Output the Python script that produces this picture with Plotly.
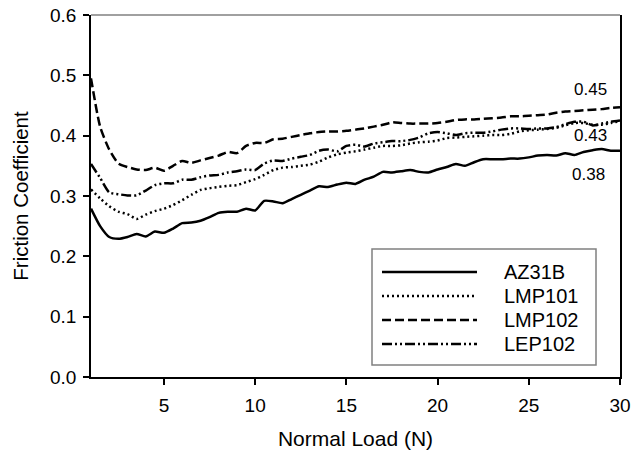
import plotly.graph_objects as go

load = [1.0, 1.5, 2.0, 2.5, 3.0, 3.5, 4.0, 4.5, 5.0, 5.5, 6.0, 6.5, 7.0, 7.5, 8.0, 8.5, 9.0, 9.5,
        10.0, 10.5, 11.0, 11.5, 12.0, 12.5, 13.0, 13.5, 14.0, 14.5, 15.0, 15.5, 16.0, 16.5, 17.0,
        17.5, 18.0, 18.5, 19.0, 19.5, 20.0, 20.5, 21.0, 21.5, 22.0, 22.5, 23.0, 23.5, 24.0, 24.5,
        25.0, 25.5, 26.0, 26.5, 27.0, 27.5, 28.0, 28.5, 29.0, 29.5, 30.0]

az31b = [0.279, 0.250, 0.232, 0.229, 0.232, 0.237, 0.233, 0.241, 0.239, 0.246, 0.255, 0.256, 0.259,
         0.265, 0.272, 0.274, 0.274, 0.279, 0.276, 0.292, 0.291, 0.288, 0.295, 0.302, 0.309, 0.316,
         0.315, 0.319, 0.322, 0.320, 0.327, 0.332, 0.340, 0.339, 0.341, 0.343, 0.340, 0.339, 0.344,
         0.348, 0.353, 0.350, 0.356, 0.361, 0.361, 0.361, 0.362, 0.362, 0.364, 0.367, 0.368, 0.367,
         0.371, 0.368, 0.373, 0.376, 0.378, 0.375, 0.375]

lmp101 = [0.311, 0.296, 0.283, 0.274, 0.270, 0.262, 0.269, 0.275, 0.279, 0.285, 0.293, 0.302, 0.310,
          0.313, 0.315, 0.317, 0.318, 0.323, 0.328, 0.335, 0.343, 0.347, 0.348, 0.350, 0.352, 0.357,
          0.364, 0.369, 0.372, 0.374, 0.377, 0.380, 0.383, 0.383, 0.384, 0.387, 0.389, 0.390, 0.392,
          0.396, 0.397, 0.398, 0.399, 0.400, 0.401, 0.401, 0.403, 0.407, 0.409, 0.410, 0.411, 0.413,
          0.417, 0.421, 0.421, 0.418, 0.418, 0.421, 0.424]

lmp102 = [0.495, 0.415, 0.377, 0.354, 0.348, 0.344, 0.343, 0.347, 0.342, 0.350, 0.358, 0.355, 0.359,
          0.363, 0.367, 0.373, 0.371, 0.383, 0.388, 0.388, 0.394, 0.395, 0.398, 0.401, 0.404, 0.406,
          0.407, 0.407, 0.408, 0.410, 0.412, 0.415, 0.418, 0.422, 0.421, 0.420, 0.420, 0.420, 0.421,
          0.423, 0.426, 0.427, 0.427, 0.428, 0.429, 0.430, 0.432, 0.432, 0.433, 0.434, 0.435, 0.438,
          0.440, 0.441, 0.442, 0.443, 0.444, 0.446, 0.447]

lep102 = [0.353, 0.330, 0.306, 0.303, 0.301, 0.301, 0.309, 0.318, 0.321, 0.321, 0.327, 0.327, 0.331,
          0.334, 0.335, 0.339, 0.341, 0.344, 0.343, 0.354, 0.359, 0.358, 0.362, 0.365, 0.368, 0.375,
          0.377, 0.374, 0.383, 0.385, 0.382, 0.387, 0.389, 0.391, 0.391, 0.393, 0.397, 0.404, 0.406,
          0.404, 0.401, 0.404, 0.405, 0.405, 0.407, 0.410, 0.412, 0.412, 0.411, 0.412, 0.412, 0.414,
          0.419, 0.423, 0.423, 0.417, 0.420, 0.423, 0.425]

series_names = ["AZ31B", "LMP101", "LMP102", "LEP102"]
series_dashes = ["solid", "2px,3px", "9px,4px", "10px,3px,2px,3px,2px,3px"]
end_labels = ["0.38", "0.43", "0.45"]
end_label_x = [28.3, 28.4, 28.4]
end_label_y = [0.335, 0.401, 0.476]

FONT = "Liberation Sans, Arial, sans-serif"

# plot area geometry (px) used to convert the hand-made legend position
W, H = 631, 450
ML, MR, MT, MB = 91, 11, 15, 73
PW, PH = W - ML - MR, H - MT - MB


def px_x(p):
    return (p - ML) / PW


def px_y(p):
    return (H - MB - p) / PH


fig = go.Figure()
for name, vals, dash in zip(series_names, [az31b, lmp101, lmp102, lep102], series_dashes):
    fig.add_trace(go.Scatter(
        x=load, y=vals, mode="lines", name=name, showlegend=False,
        line=dict(color="black", width=2.5, dash=dash, shape="spline", smoothing=0.6),
    ))

for txt, xv, yv in zip(end_labels, end_label_x, end_label_y):
    fig.add_annotation(x=xv, y=yv, text=txt, showarrow=False, xref="x", yref="y",
                       font=dict(family=FONT, size=17, color="black"))

# grey top frame line
fig.add_shape(type="line", xref="paper", yref="paper", x0=0, x1=1, y0=1, y1=1,
              line=dict(color="#808080", width=1.5))

# legend box (drawn by hand to match the original layout)
fig.add_shape(type="rect", xref="paper", yref="paper",
              x0=px_x(372), x1=px_x(596), y0=px_y(365), y1=px_y(249),
              line=dict(color="#808080", width=1.5), fillcolor="white", layer="above")
row_y = [272, 296, 320, 344]
for name, dash, ry in zip(series_names, series_dashes, row_y):
    fig.add_shape(type="line", xref="paper", yref="paper",
                  x0=px_x(382), x1=px_x(477), y0=px_y(ry), y1=px_y(ry),
                  line=dict(color="black", width=2.5, dash=dash), layer="above")
    fig.add_annotation(x=px_x(502), y=px_y(ry), xref="paper", yref="paper", text=name,
                       showarrow=False, xanchor="left", yanchor="middle",
                       font=dict(family=FONT, size=20, color="black"))

fig.update_layout(
    width=W, height=H,
    margin=dict(l=ML, r=MR, t=MT, b=MB),
    plot_bgcolor="white", paper_bgcolor="white",
    font=dict(family=FONT, size=19, color="black"),
    xaxis=dict(
        range=[1, 30], tickvals=[5, 10, 15, 20, 25, 30], automargin=False,
        showgrid=False, zeroline=False, showline=True, linecolor="black", linewidth=1.5,
        ticks="outside", ticklen=6, tickwidth=1.5, tickcolor="black",
        tickfont=dict(size=19), ticklabelstandoff=4,
        title=dict(text="Normal Load (N)", font=dict(size=21), standoff=17),
    ),
    yaxis=dict(
        range=[0, 0.6], tickvals=[0, 0.1, 0.2, 0.3, 0.4, 0.5, 0.6], tickformat=".1f",
        automargin=False,
        showgrid=False, zeroline=False, showline=True, linecolor="black", linewidth=1.5,
        mirror=True,
        ticks="outside", ticklen=6, tickwidth=1.5, tickcolor="black",
        tickfont=dict(size=19), ticklabelstandoff=3,
        title=dict(text="Friction Coefficient", font=dict(size=20.5), standoff=16),
    ),
    showlegend=False,
)

fig.write_html("out.html", config={"displayModeBar": False},
               post_script="document.body.style.margin='0';")
